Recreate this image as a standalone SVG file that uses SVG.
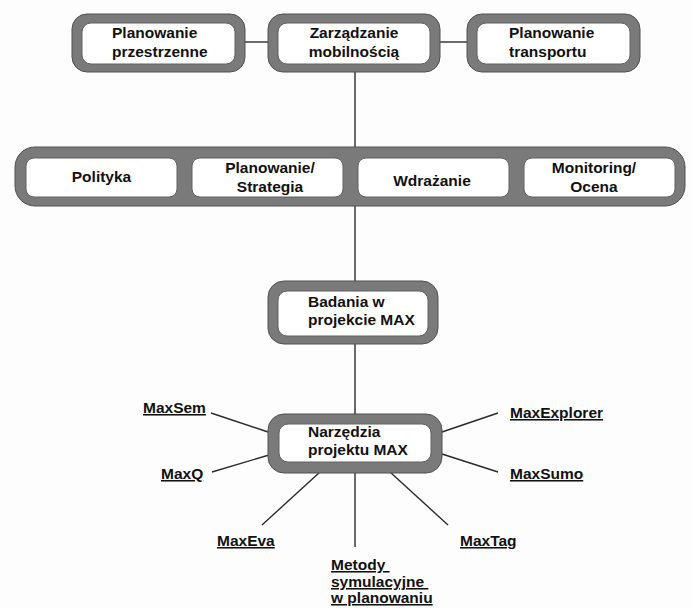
<svg xmlns="http://www.w3.org/2000/svg" width="692" height="608" viewBox="0 0 692 608">
<style>
.outer{fill:#7a7a7a;stroke:#505050;stroke-width:1}
.inner{fill:#ffffff;stroke:#606060;stroke-width:1}
.t{font-family:"Liberation Sans",Arial,sans-serif;font-weight:bold;font-size:15.5px;fill:#111}
.u{text-decoration:underline;white-space:pre}
.c{stroke:#2a2a2a;stroke-width:1.4;fill:none}
</style>
<rect width="692" height="608" fill="#fdfdfd"/>
<g id="connectors">
<line class="c" x1="245" y1="42" x2="268" y2="42"/>
<line class="c" x1="440" y1="42" x2="467" y2="42"/>
<line class="c" x1="355" y1="72" x2="355" y2="147"/>
<line class="c" x1="355" y1="206" x2="355" y2="281"/>
<line class="c" x1="355" y1="344" x2="355" y2="414"/>
<line class="c" x1="355" y1="473" x2="355" y2="547"/>
<line class="c" x1="211" y1="413" x2="268" y2="432"/>
<line class="c" x1="212" y1="472" x2="269" y2="455"/>
<line class="c" x1="498" y1="413" x2="442" y2="432"/>
<line class="c" x1="498" y1="472" x2="442" y2="454"/>
<line class="c" x1="320" y1="472" x2="262" y2="525"/>
<line class="c" x1="390" y1="472" x2="448" y2="525"/>
</g>
<g id="planowanie-przestrzenne">
<rect class="outer" x="72" y="14" width="173" height="58" rx="15"/>
<rect class="inner" x="82" y="23" width="153" height="41" rx="9"/>
<text class="t" x="112" y="38">Planowanie</text>
<text class="t" x="112" y="57">przestrzenne</text>
</g>
<g id="zarzadzanie">
<rect class="outer" x="268" y="14" width="172" height="58" rx="15"/>
<rect class="inner" x="278" y="23" width="152" height="41" rx="9"/>
<text class="t" x="354" y="38" text-anchor="middle">Zarządzanie</text>
<text class="t" x="354" y="57" text-anchor="middle">mobilnością</text>
</g>
<g id="planowanie-transportu">
<rect class="outer" x="467" y="14" width="173" height="58" rx="15"/>
<rect class="inner" x="477" y="23" width="153" height="41" rx="9"/>
<text class="t" x="509" y="38">Planowanie</text>
<text class="t" x="509" y="57">transportu</text>
</g>
<g id="bar">
<rect class="outer" x="15" y="147" width="670" height="59" rx="20"/>
<g id="polityka">
<rect class="inner" x="26" y="158" width="151" height="39" rx="8"/>
<text class="t" x="101.5" y="182" text-anchor="middle">Polityka</text>
</g>
<g id="strategia">
<rect class="inner" x="192" y="158" width="151" height="39" rx="8"/>
<text class="t" x="270" y="173" text-anchor="middle">Planowanie/</text>
<text class="t" x="270" y="192" text-anchor="middle">Strategia</text>
</g>
<g id="wdrazanie">
<rect class="inner" x="358" y="158" width="151" height="39" rx="8"/>
<text class="t" x="432" y="186" text-anchor="middle">Wdrażanie</text>
</g>
<g id="monitoring">
<rect class="inner" x="524" y="158" width="151" height="39" rx="8"/>
<text class="t" x="594" y="173" text-anchor="middle">Monitoring/</text>
<text class="t" x="594" y="192" text-anchor="middle">Ocena</text>
</g>
</g>
<g id="badania">
<rect class="outer" x="268" y="281" width="170" height="63" rx="16"/>
<rect class="inner" x="278" y="291" width="150" height="45" rx="9"/>
<text class="t" x="308" y="307">Badania w</text>
<text class="t" x="308" y="325">projekcie MAX</text>
</g>
<g id="narzedzia">
<rect class="outer" x="268" y="414" width="174" height="59" rx="16"/>
<rect class="inner" x="279" y="424" width="152" height="38" rx="9"/>
<text class="t" x="308" y="437">Narzędzia</text>
<text class="t" x="308" y="455">projektu MAX</text>
</g>
<g id="maxsem"><text class="t u" x="143" y="413">MaxSem</text></g>
<g id="maxq"><text class="t u" x="161" y="479">MaxQ</text></g>
<g id="maxexplorer"><text class="t u" x="510" y="418">MaxExplorer</text></g>
<g id="maxsumo"><text class="t u" x="510" y="479">MaxSumo</text></g>
<g id="maxeva"><text class="t u" x="217" y="546">MaxEva</text></g>
<g id="maxtag"><text class="t u" x="460" y="546">MaxTag</text></g>
<g id="metody">
<text class="t u" x="331" y="570">Metody </text>
<text class="t u" x="331" y="587">symulacyjne </text>
<text class="t u" x="331" y="603">w planowaniu</text>
</g>
</svg>
